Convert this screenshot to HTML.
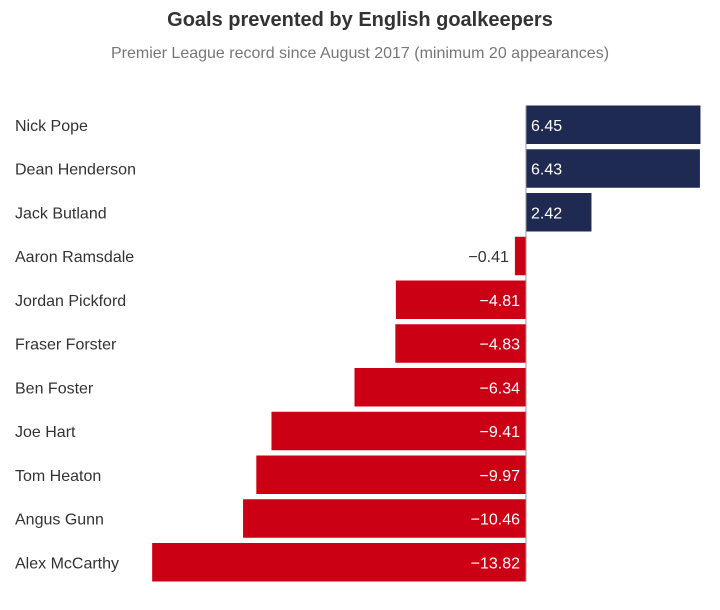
<!DOCTYPE html>
<html><head><meta charset="utf-8"><style>
body{margin:0;background:#fff;font-family:"Liberation Sans",sans-serif;}
#wrap{position:relative;width:720px;height:610px;overflow:hidden;}
.t{position:absolute;left:0;width:720px;text-align:center;}
</style></head><body>
<div id="wrap">
<div class="t" style="top:9px;font-size:20px;font-weight:bold;color:#333;">Goals prevented by English goalkeepers</div>
<div class="t" style="top:45px;font-size:16px;color:#777;">Premier League record since August 2017 (minimum 20 appearances)</div>
<svg id="svg" width="720" height="610" style="position:absolute;left:0;top:0"></svg>
</div>
<script>
const names=["Nick Pope","Dean Henderson","Jack Butland","Aaron Ramsdale","Jordan Pickford","Fraser Forster","Ben Foster","Joe Hart","Tom Heaton","Angus Gunn","Alex McCarthy"];
const values=[6.45,6.43,2.42,-0.41,-4.81,-4.83,-6.34,-9.41,-9.97,-10.46,-13.82];
const labels=["6.45","6.43","2.42","\u22120.41","\u22124.81","\u22124.83","\u22126.34","\u22129.41","\u22129.97","\u221210.46","\u221213.82"];
const svg=document.getElementById('svg');const NS="http://www.w3.org/2000/svg";
const x0=526,k=27.05,top0=105.5,step=43.75,bh=38.5;
function xs(v){return x0+v*k;}
function mk(t,a){const e=document.createElementNS(NS,t);for(const p in a)e.setAttribute(p,a[p]);svg.appendChild(e);return e;}
values.forEach((v,i)=>{
 const y=top0+i*step;
 const n=mk('text',{x:15,y:y+bh/2+6,'font-size':16,fill:'#333','font-family':'Liberation Sans, sans-serif'});
 n.textContent=names[i];
 
 
 const xa=Math.min(xs(0),xs(v)),w=Math.abs(xs(v)-xs(0));
 const r=mk('rect',{x:xa,y:y,width:w,height:bh,fill:v>=0?'#1f2a52':'#cc0014'});
 
 
 let lx,anchor,col;
 if(v>=0){lx=xs(0)+5;anchor='start';col='#fff';}
 else if(w>60){lx=xs(0)-6;anchor='end';col='#fff';}
 else{lx=xa-6;anchor='end';col='#333';}
 const l=mk('text',{x:lx,y:y+bh/2+6,'font-size':16,fill:col,'text-anchor':anchor,'font-family':'Liberation Sans, sans-serif'});
 l.textContent=labels[i];
 
 
});
const zl=mk('line',{x1:xs(0),x2:xs(0),y1:top0,y2:top0+10*step+bh,stroke:'#999','stroke-width':1});


</script>
</body></html>
